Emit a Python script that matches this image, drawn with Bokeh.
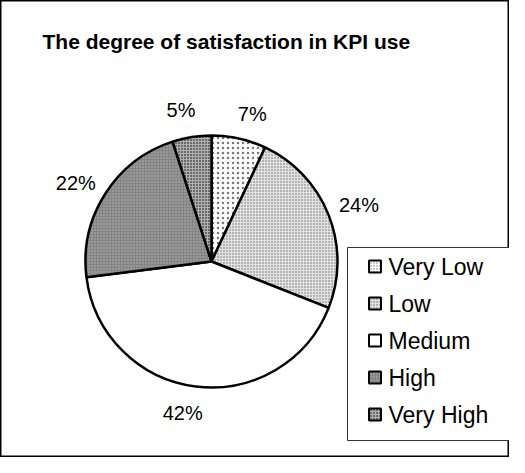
import numpy as np
from bokeh.plotting import figure
from bokeh.models import Range1d, ColumnDataSource
from bokeh.core.properties import value
from bokeh.embed import file_html
from bokeh.resources import INLINE

# ---- data ----
categories = ["Very Low", "Low", "Medium", "High", "Very High"]
shares = [7, 24, 42, 22, 5]
title_text = "The degree of satisfaction in KPI use"

# ---- styles ----
fills = ["#ffffff", "#e2e2e2", "#ffffff", "#848484", "#b0b0b0"]
hatches = ["dot", "dot", "blank", "dot", "dot"]
hatch_cols = ["#777777", "#6a6a6a", "#000000", "#b8b8b8", "#000000"]
hatch_scales = [5, 3, 4, 3, 3]

W, H = 509, 457
FONT = "Liberation Sans"

p = figure(width=W, height=H, x_range=Range1d(0, W), y_range=Range1d(0, H),
           output_backend="svg", toolbar_location=None, min_border=0)
p.axis.visible = False
p.grid.visible = False
p.outline_line_color = "black"
p.outline_line_width = 2
p.background_fill_color = "white"
p.border_fill_color = "white"


def X(rx):
    return rx - 8


def Y(ry):
    return H - (ry - 8)


cx, cy, R = X(219), Y(269), 126
vals = np.array(shares, dtype=float)
frac = vals / vals.sum()
cum = np.concatenate([[0.0], np.cumsum(frac)])
start = np.pi / 2 - 2 * np.pi * cum[:-1]
end = np.pi / 2 - 2 * np.pi * cum[1:]
mid = (start + end) / 2

src = ColumnDataSource(dict(
    cat=categories, start=start, end=end, fill=fills, hatch=hatches,
    hcol=hatch_cols, hscale=hatch_scales,
))

p.wedge(x=cx, y=cy, radius=R, start_angle="start", end_angle="end",
        direction="clock", source=src, fill_color="fill", line_color="black",
        line_width=2.5, hatch_pattern="hatch", hatch_color="hcol",
        hatch_scale="hscale", hatch_weight=1)

# percentage labels
pct = [f"{round(f * 100)}%" for f in frac]
nudge = [(8, -1), (8, -1), (-10, 3), (-9, 2), (-7, -3)]  # screen px (x right, y down)
lx = [cx + 150 * np.cos(m) + n[0] for m, n in zip(mid, nudge)]
ly = [cy + 150 * np.sin(m) - n[1] for m, n in zip(mid, nudge)]
p.text(x=lx, y=ly, text=pct, text_align="center", text_baseline="middle",
       text_font=value(FONT), text_font_size="20px", text_color="black")

# title
p.text(x=[X(50)], y=[Y(49)], text=[title_text], text_align="left",
       text_baseline="alphabetic", text_font=value(FONT),
       text_font_size="21px", text_font_style="bold", text_color="black")

# legend
bx0, bx1, by0, by1 = X(355), X(519), Y(255), Y(448)
p.quad(left=[bx0], right=[bx1], bottom=[by1], top=[by0], fill_color="white",
       line_color="#333333", line_width=1)
row_y = [Y(274 + 37 * i) for i in range(len(categories))]
lsrc = ColumnDataSource(dict(
    x=[X(382.5)] * len(categories), y=row_y, tx=[X(396)] * len(categories),
    cat=categories, fill=fills, hatch=hatches, hcol=hatch_cols,
    hscale=[min(s, 3) for s in hatch_scales],
))
p.rect(x="x", y="y", width=12, height=12, source=lsrc, fill_color="fill",
       line_color="black", line_width=2, hatch_pattern="hatch",
       hatch_color="hcol", hatch_scale="hscale", hatch_weight=1)
p.text(x="tx", y="y", text="cat", source=lsrc, text_align="left",
       text_baseline="middle", text_font=value(FONT), text_font_size="23px",
       text_color="black")

open("out.html", "w").write(file_html(p, INLINE))
